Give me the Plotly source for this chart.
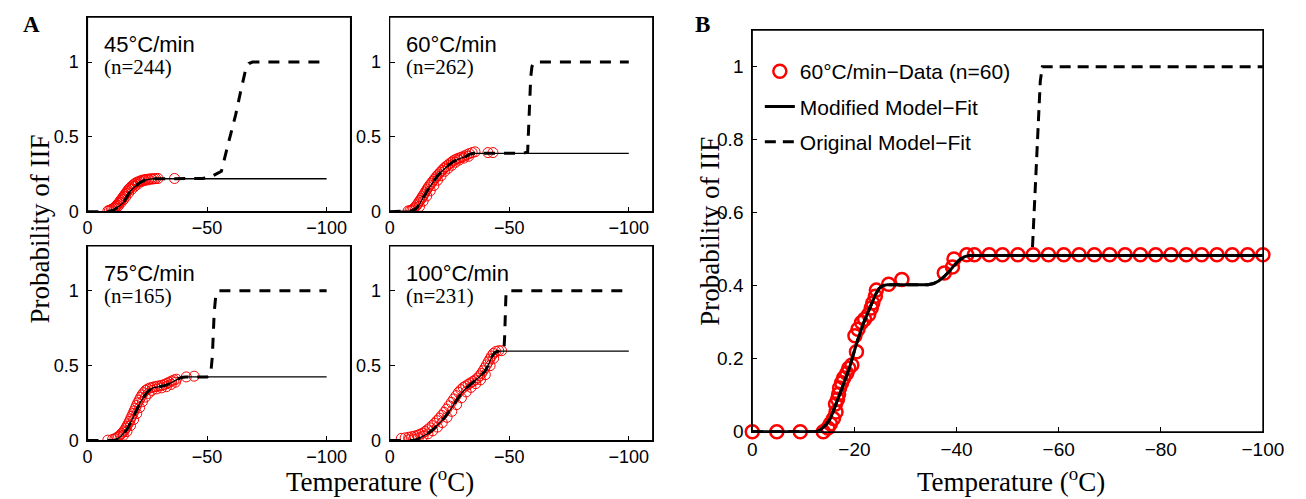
import plotly.graph_objects as go

W, H = 1306, 499

# ---------------- Panel A data ----------------
# 45 C/min
d45_T = [-8.5, -9.2, -10.0, -10.6, -11.3, -11.8, -12.3, -12.9, -13.4, -13.8, -14.3, -14.8, -15.2, -15.7, -16.1,
         -16.6, -17.0, -17.5, -18.0, -18.6, -19.2, -19.8, -20.5, -21.2, -22.0, -22.8, -23.6, -24.5, -25.5, -26.5,
         -27.8, -29.5, -36.4,
         -12.0, -13.0, -14.0, -15.0, -16.0, -17.2, -18.5, -19.8, -21.0, -22.5, -24.0, -25.5, -27.0, -28.5]
d45_p = [0.005, 0.01, 0.015, 0.02, 0.028, 0.036, 0.045, 0.055, 0.065, 0.075, 0.085, 0.095, 0.105, 0.115, 0.125,
         0.135, 0.145, 0.155, 0.163, 0.172, 0.18, 0.188, 0.195, 0.2, 0.205, 0.21, 0.213, 0.216, 0.218, 0.22,
         0.22, 0.222, 0.222,
         0.025, 0.04, 0.06, 0.08, 0.1, 0.125, 0.15, 0.17, 0.185, 0.2, 0.208, 0.213, 0.218, 0.222]
mod45_T = [0, -8, -11, -13, -15, -16.5, -18, -20, -22, -24, -26, -28, -100]
mod45_p = [0, 0, 0.01, 0.035, 0.06, 0.1, 0.14, 0.17, 0.195, 0.21, 0.218, 0.22, 0.22]
org45_T = [0, -8, -11, -13, -15, -16.5, -18, -20, -22, -24, -26, -28, -48, -51, -54, -56, -58, -60, -62, -64,
           -66, -67.5, -69, -100]
org45_p = [0, 0, 0.01, 0.035, 0.06, 0.1, 0.14, 0.17, 0.195, 0.21, 0.218, 0.22, 0.222, 0.228, 0.25, 0.27, 0.4,
           0.52, 0.65, 0.8, 0.94, 0.99, 1.0, 1.0]

# 60 C/min
d60_T = [-7.7, -8.5, -9.3, -10.0, -10.6, -11.2, -11.7, -12.2, -12.7, -13.2, -13.7, -14.2, -14.7, -15.2, -15.7,
         -16.2, -16.8, -17.4, -18.0, -18.6, -19.2, -19.8, -20.5, -21.2, -21.9, -22.6, -23.4, -24.2, -25.0, -25.8,
         -26.6, -27.5, -28.4, -29.3, -30.2, -31.2, -32.2, -33.3, -34.5, -35.7, -41.1, -43.2,
         -12.5, -14.0, -15.5, -17.0, -18.5, -20.0, -21.5, -23.0, -24.5, -26.0, -27.5, -29.0, -31.0, -33.0]
d60_p = [0.005, 0.008, 0.012, 0.02, 0.03, 0.04, 0.052, 0.064, 0.076, 0.088, 0.1, 0.113, 0.126, 0.139, 0.152,
         0.165, 0.178, 0.19, 0.203, 0.215, 0.227, 0.24, 0.252, 0.264, 0.276, 0.288, 0.3, 0.31, 0.32, 0.33,
         0.34, 0.348, 0.355, 0.36, 0.365, 0.372, 0.38, 0.388, 0.395, 0.4, 0.395, 0.395,
         0.035, 0.07, 0.105, 0.14, 0.175, 0.21, 0.24, 0.27, 0.29, 0.31, 0.33, 0.345, 0.358, 0.37]
mod60_T = [0, -7.7, -9, -11, -12.5, -13.8, -15, -16.6, -18.3, -20, -21.7, -23.4, -25, -26.8, -28.5, -30.2, -32,
           -33.6, -35, -100]
mod60_p = [0, 0, 0.005, 0.02, 0.05, 0.087, 0.12, 0.163, 0.2, 0.239, 0.268, 0.294, 0.316, 0.337, 0.35, 0.359,
           0.37, 0.385, 0.39, 0.39]
org60_T = [0, -7.7, -9, -11, -12.5, -13.8, -15, -16.6, -18.3, -20, -21.7, -23.4, -25, -26.8, -28.5, -30.2, -32,
           -33.6, -35, -56, -57.7, -58.1, -58.5, -59, -59.5, -60.5, -100]
org60_p = [0, 0, 0.005, 0.02, 0.05, 0.087, 0.12, 0.163, 0.2, 0.239, 0.268, 0.294, 0.316, 0.337, 0.35, 0.359,
           0.37, 0.385, 0.39, 0.39, 0.4, 0.55, 0.75, 0.9, 0.97, 1.0, 1.0]

# 75 C/min
d75_T = [-8.5, -10.5, -11.5, -12.3, -13.0, -13.7, -14.3, -14.9, -15.5, -16.0, -16.5, -17.0, -17.5, -18.0, -18.5,
         -19.0, -19.5, -20.0, -20.5, -21.0, -21.6, -22.2, -22.8, -23.5, -24.3, -25.2, -26.2, -27.2, -28.2, -29.2,
         -30.2, -31.2, -32.2, -33.2, -34.2, -35.2, -36.2, -37.2, -41.3, -44.6,
         -15.0, -16.5, -18.0, -19.3, -20.6, -21.8, -23.0, -24.2, -25.5, -27.0, -29.0, -31.0, -33.0, -35.0, -36.8]
d75_p = [0.003, 0.008, 0.013, 0.02, 0.028, 0.037, 0.047, 0.058, 0.07, 0.083, 0.097, 0.112, 0.128, 0.145, 0.162,
         0.18, 0.198, 0.216, 0.234, 0.252, 0.27, 0.288, 0.305, 0.32, 0.335, 0.345, 0.352, 0.356, 0.36, 0.363,
         0.366, 0.37, 0.375, 0.382, 0.39, 0.398, 0.405, 0.41, 0.425, 0.43,
         0.035, 0.06, 0.1, 0.14, 0.18, 0.22, 0.26, 0.29, 0.315, 0.335, 0.345, 0.352, 0.36, 0.375, 0.39]
mod75_T = [0, -11.2, -12.5, -13.8, -15.2, -16.7, -18, -19.4, -20.8, -22.1, -23.5, -24.8, -26.2, -27.6, -29.5,
           -31.7, -33, -34.4, -35.8, -37.1, -38.5, -39.9, -41, -100]
mod75_p = [0, 0, 0.01, 0.026, 0.05, 0.08, 0.12, 0.167, 0.212, 0.255, 0.29, 0.32, 0.34, 0.353, 0.358, 0.363,
           0.37, 0.381, 0.395, 0.407, 0.417, 0.423, 0.425, 0.425]
org75_T = [0, -11.2, -12.5, -13.8, -15.2, -16.7, -18, -19.4, -20.8, -22.1, -23.5, -24.8, -26.2, -27.6, -29.5,
           -31.7, -33, -34.4, -35.8, -37.1, -38.5, -39.9, -41, -50, -51.5, -52.2, -52.6, -53, -53.6, -54.5, -100]
org75_p = [0, 0, 0.01, 0.026, 0.05, 0.08, 0.12, 0.167, 0.212, 0.255, 0.29, 0.32, 0.34, 0.353, 0.358, 0.363,
           0.37, 0.381, 0.395, 0.407, 0.417, 0.423, 0.425, 0.425, 0.44, 0.56, 0.72, 0.86, 0.96, 1.0, 1.0]

# 100 C/min
d100_T = [-4.9, -6.5, -8.0, -9.3, -10.5, -11.6, -12.7, -13.8, -14.8, -15.8, -16.8, -17.8, -18.8, -19.8, -20.8,
          -21.8, -22.8, -23.8, -24.8, -25.8, -26.8, -27.8, -28.8, -29.8, -30.8, -31.8, -32.8, -33.8, -34.8, -35.8,
          -36.8, -37.6, -38.4, -39.1, -39.8, -40.5, -41.2, -41.9, -42.6, -43.4, -44.4, -45.6, -46.8,
          -8.0, -10.0, -12.0, -14.0, -16.0, -18.0, -20.0, -22.0, -24.0, -26.0, -28.0, -30.0, -32.0, -34.0, -36.0,
          -38.0, -40.0, -42.0, -43.5]
d100_p = [0.015, 0.018, 0.022, 0.026, 0.03, 0.035, 0.042, 0.05, 0.06, 0.072, 0.085, 0.1, 0.116, 0.133, 0.15,
          0.168, 0.188, 0.21, 0.232, 0.255, 0.278, 0.3, 0.322, 0.34, 0.355, 0.365, 0.375, 0.385, 0.395, 0.405,
          0.418, 0.432, 0.448, 0.466, 0.485, 0.505, 0.525, 0.545, 0.565, 0.582, 0.595, 0.6, 0.6,
          0.005, 0.01, 0.018, 0.03, 0.045, 0.065, 0.09, 0.12, 0.155, 0.195, 0.24, 0.285, 0.325, 0.355, 0.38,
          0.405, 0.44, 0.5, 0.55]
mod100_T = [0, -9.7, -11.5, -13.8, -15.8, -17.9, -20, -22, -24, -26.1, -28, -30.2, -32, -33.6, -35.3, -37,
            -38.5, -39.8, -40.8, -41.8, -42.8, -43.9, -45, -46.6, -100]
mod100_p = [0, 0, 0.008, 0.026, 0.045, 0.07, 0.1, 0.135, 0.175, 0.222, 0.27, 0.32, 0.35, 0.375, 0.395, 0.418,
            0.44, 0.461, 0.49, 0.527, 0.56, 0.586, 0.596, 0.598, 0.598]
org100_T = [0, -9.7, -11.5, -13.8, -15.8, -17.9, -20, -22, -24, -26.1, -28, -30.2, -32, -33.6, -35.3, -37,
            -38.5, -39.8, -40.8, -41.8, -42.8, -43.9, -45, -46.6, -47.8, -48.1, -48.3, -48.6, -49, -100]
org100_p = [0, 0, 0.008, 0.026, 0.045, 0.07, 0.1, 0.135, 0.175, 0.222, 0.27, 0.32, 0.35, 0.375, 0.395, 0.418,
            0.44, 0.461, 0.49, 0.527, 0.56, 0.586, 0.596, 0.598, 0.6, 0.7, 0.85, 0.96, 1.0, 1.0]

rates = ["45°C/min", "60°C/min", "75°C/min", "100°C/min"]
counts = ["(n=244)", "(n=262)", "(n=165)", "(n=231)"]

# ---------------- Panel B data ----------------
b_T = [0, -4.8, -9.4, -13.9, -14.8, -15.3, -15.9, -16.4, -16.3, -16.7, -16.9, -17.1, -17.5, -17.9, -18.5,
       -18.9, -19.5, -20.4, -20.1, -20.7, -21.4, -22.0, -22.8, -23.3, -23.6, -24.1, -24.3, -26.7, -29.3,
       -37.6, -39.2, -39.5, -42.0, -43.5, -46.4,
       -49, -52, -55, -58, -61, -64, -67, -70, -73, -76, -79, -82, -85, -88, -91, -94, -97, -100]
b_p = [0, 0, 0, 0, 0.01, 0.022, 0.036, 0.054, 0.076, 0.089, 0.103, 0.12, 0.134, 0.147, 0.16,
       0.174, 0.183, 0.219, 0.263, 0.281, 0.299, 0.308, 0.321, 0.339, 0.353, 0.371, 0.388, 0.404, 0.417,
       0.435, 0.451, 0.473, 0.485, 0.485, 0.485,
       0.485, 0.485, 0.485, 0.485, 0.485, 0.485, 0.485, 0.485, 0.485, 0.485, 0.485, 0.485, 0.485, 0.485,
       0.485, 0.485, 0.485, 0.485]
bmod_T = [0, -12.5, -13.5, -14.5, -15.3, -16.4, -17.5, -19.1, -20.4, -21.7, -23, -24.1, -24.8, -25.5, -26.5,
          -34.4, -35.5, -36.5, -37.5, -38.5, -39.5, -40.5, -41.5, -42.5, -100]
bmod_p = [0, 0, 0.007, 0.02, 0.036, 0.075, 0.116, 0.178, 0.241, 0.295, 0.339, 0.375, 0.392, 0.4, 0.403,
          0.403, 0.406, 0.413, 0.424, 0.438, 0.455, 0.47, 0.479, 0.483, 0.483]
borg_T = [0, -12.5, -13.5, -14.5, -15.3, -16.4, -17.5, -19.1, -20.4, -21.7, -23, -24.1, -24.8, -25.5, -26.5,
          -34.4, -35.5, -36.5, -37.5, -38.5, -39.5, -40.5, -41.5, -42.5, -54.8, -55.2, -55.6, -56.0, -56.4,
          -56.8, -100]
borg_p = [0, 0, 0.007, 0.02, 0.036, 0.075, 0.116, 0.178, 0.241, 0.295, 0.339, 0.375, 0.392, 0.4, 0.403,
          0.403, 0.406, 0.413, 0.424, 0.438, 0.455, 0.47, 0.479, 0.483, 0.483, 0.6, 0.72, 0.85, 0.96, 1.0, 1.0]

legend_names = ["60°C/min−Data (n=60)", "Modified Model−Fit", "Original Model−Fit"]

# ---------------- Layout helpers (positions in window pixels) ----------------
SANS = "Liberation Sans, Arial, sans-serif"
SERIF = "Liberation Serif, Times New Roman, serif"


def fx(x):
    return x / W


def fy(y):
    return 1 - y / H


def dom_x(a, b):
    return [fx(a), fx(b)]


def dom_y(top, bottom):
    return [fy(bottom), fy(top)]


fig = go.Figure()

panels = [
    (d45_T, d45_p, mod45_T, mod45_p, org45_T, org45_p),
    (d60_T, d60_p, mod60_T, mod60_p, org60_T, org60_p),
    (d75_T, d75_p, mod75_T, mod75_p, org75_T, org75_p),
    (d100_T, d100_p, mod100_T, mod100_p, org100_T, org100_p),
]
xdoms = [dom_x(76, 344.4), dom_x(384.3, 652.7), dom_x(76, 344.4), dom_x(384.3, 652.7)]
ydoms = [dom_y(9.3, 208.3), dom_y(9.3, 208.3), dom_y(243.3, 442.3), dom_y(243.3, 442.3)]

axis_common = dict(showline=True, linecolor="black", linewidth=1, mirror=True, ticks="inside",
                   ticklen=5, tickwidth=1, tickcolor="black", showgrid=False, zeroline=False,
                   ticklabeloverflow="allow")

box_line = dict(color="black", width=1.2)

for i, (dT, dp, mT, mp, oT, op) in enumerate(panels):
    k = i + 1
    xa = "x" if k == 1 else f"x{k}"
    ya = "y" if k == 1 else f"y{k}"
    fig.add_trace(go.Scatter(x=dT, y=dp, mode="markers", xaxis=xa, yaxis=ya, showlegend=False,
                             marker=dict(symbol="circle-open", size=10, color="red",
                                         line=dict(width=1, color="red"))))
    fig.add_trace(go.Scatter(x=oT, y=op, mode="lines", xaxis=xa, yaxis=ya, showlegend=False,
                             line=dict(color="black", width=3, dash="11px,9px")))
    fig.add_trace(go.Scatter(x=mT, y=mp, mode="lines", xaxis=xa, yaxis=ya, showlegend=False,
                             line=dict(color="black", width=1.3)))
    xname = "xaxis" if k == 1 else f"xaxis{k}"
    yname = "yaxis" if k == 1 else f"yaxis{k}"
    fig.layout[xname] = go.layout.XAxis(domain=xdoms[i], range=[0, -110], anchor=ya,
                                        tickvals=[0, -50, -100], ticktext=["0", "−50", "−100"],
                                        tickfont=dict(family=SANS, size=18, color="black"), **axis_common)
    fig.layout[yname] = go.layout.YAxis(domain=ydoms[i], range=[0, 1.3], anchor=xa,
                                        tickvals=[0, 0.5, 1], ticktext=["0", "0.5", "1"],
                                        ticklabelstandoff=4,
                                        tickfont=dict(family=SANS, size=18, color="black"), **axis_common)
    fig.add_shape(type="rect", xref=f"{xa} domain", yref=f"{ya} domain", x0=0, x1=1, y0=0, y1=1,
                  line=box_line, layer="above")
    fig.add_annotation(x=0.055, y=0.86, xref=f"{xa} domain", yref=f"{ya} domain", text=rates[i],
                       xanchor="left", yanchor="middle", showarrow=False,
                       font=dict(family=SANS, size=22, color="black"))
    fig.add_annotation(x=0.055, y=0.745, xref=f"{xa} domain", yref=f"{ya} domain", text=counts[i],
                       xanchor="left", yanchor="middle", showarrow=False,
                       font=dict(family=SERIF, size=21, color="black"))

# ---------------- Panel B ----------------
fig.add_trace(go.Scatter(x=b_T, y=b_p, mode="markers", xaxis="x5", yaxis="y5", name=legend_names[0],
                         legendgroup="g1", legendrank=1, cliponaxis=False,
                         marker=dict(symbol="circle-open", size=13, color="red",
                                     line=dict(width=2.5, color="red"))))
fig.add_trace(go.Scatter(x=borg_T, y=borg_p, mode="lines", xaxis="x5", yaxis="y5", name=legend_names[2],
                         legendgroup="g3", legendrank=3,
                         line=dict(color="black", width=3, dash="11px,7px")))
fig.add_trace(go.Scatter(x=bmod_T, y=bmod_p, mode="lines", xaxis="x5", yaxis="y5", name=legend_names[1],
                         legendgroup="g2", legendrank=2,
                         line=dict(color="black", width=3)))

fig.layout["xaxis5"] = go.layout.XAxis(domain=dom_x(754.3, 1275.3), range=[0, -100], anchor="y5",
                                       tickvals=[0, -20, -40, -60, -80, -100],
                                       ticktext=["0", "−20", "−40", "−60", "−80", "−100"],
                                       tickfont=dict(family=SANS, size=19, color="black"), **axis_common)
fig.layout["yaxis5"] = go.layout.YAxis(domain=dom_y(22.7, 433.3), range=[0, 1.1], anchor="x5",
                                       tickvals=[0, 0.2, 0.4, 0.6, 0.8, 1],
                                       ticktext=["0", "0.2", "0.4", "0.6", "0.8", "1"], ticklabelstandoff=4,
                                       tickfont=dict(family=SANS, size=19, color="black"), **axis_common)
fig.add_shape(type="rect", xref="x5 domain", yref="y5 domain", x0=0, x1=1, y0=0, y1=1,
              line=box_line, layer="above")

# ---------------- Titles and labels ----------------
title_font = dict(family=SERIF, size=27, color="black")
fig.add_annotation(x=fx(374), y=fy(483), xref="paper", yref="paper", text="Temperature (<sup>o</sup>C)",
                   showarrow=False, font=title_font, xanchor="center", yanchor="middle")
fig.add_annotation(x=fx(1018), y=fy(483), xref="paper", yref="paper", text="Temperature (<sup>o</sup>C)",
                   showarrow=False, font=title_font, xanchor="center", yanchor="middle")
fig.add_annotation(x=fx(28), y=fy(226), xref="paper", yref="paper", text="Probability of IIF",
                   showarrow=False, font=title_font, textangle=-90, xanchor="center", yanchor="middle")
fig.add_annotation(x=fx(711), y=fy(228), xref="paper", yref="paper", text="Probability of IIF",
                   showarrow=False, font=title_font, textangle=-90, xanchor="center", yanchor="middle")
fig.add_annotation(x=fx(19), y=fy(17), xref="paper", yref="paper", text="<b>A</b>", xanchor="center",
                   yanchor="middle", showarrow=False, font=dict(family=SERIF, size=23, color="black"))
fig.add_annotation(x=fx(704), y=fy(17), xref="paper", yref="paper", text="<b>B</b>", xanchor="center",
                   yanchor="middle", showarrow=False, font=dict(family=SERIF, size=23, color="black"))

fig.update_layout(
    width=W, height=H, margin=dict(l=0, r=0, t=0, b=0),
    paper_bgcolor="white", plot_bgcolor="white",
    legend=dict(x=fx(762), y=fy(44), xanchor="left", yanchor="top", bgcolor="rgba(0,0,0,0)",
                font=dict(family=SANS, size=21, color="black"), traceorder="grouped", tracegroupgap=5),
)

fig.write_html("out.html")
